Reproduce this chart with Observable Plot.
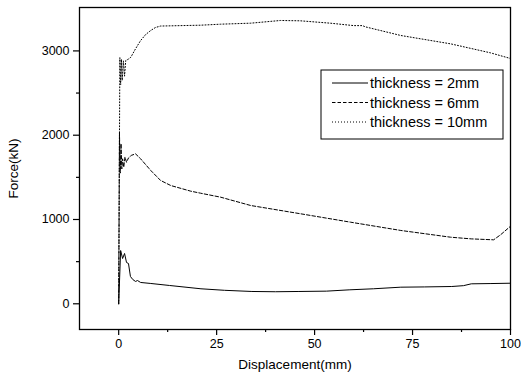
<!DOCTYPE html>
<html>
<head>
<meta charset="utf-8">
<script src="https://cdn.jsdelivr.net/npm/d3@7"></script>
<script src="https://cdn.jsdelivr.net/npm/@observablehq/plot@0.6"></script>
<style>
  html, body { margin: 0; padding: 0; background: #fff; }
  #chart { width: 521px; height: 381px; }
</style>
</head>
<body>
<div id="chart"></div>
<script>
// ---- data ----
const seriesNames = ["thickness = 2mm", "thickness = 6mm", "thickness = 10mm"];

const disp2 = [0, 0.5, 1.0, 1.5, 2.0, 2.5, 3.0, 3.6, 4.3, 4.8, 5.6, 8.2, 13, 21, 27, 34, 40, 46, 53, 59, 65, 72, 78, 85, 88, 90, 95, 100];
const force2 = [0, 632, 537, 597, 490, 478, 324, 288, 265, 276, 253, 241, 217, 178, 160, 146, 143, 146, 150, 166, 178, 197, 200, 205, 215, 237, 240, 244];

const disp6 = [0, 0.2, 0.4, 0.6, 0.8, 1.0, 1.3, 1.6, 2.0, 2.5, 3.2, 4.3, 5.6, 8.2, 10.7, 13.3, 18.4, 20.9, 26, 33.7, 46.4, 59.2, 72, 84.7, 90, 95.7, 97.5, 100];
const force6 = [0, 2030, 1550, 1900, 1600, 1720, 1620, 1740, 1680, 1730, 1760, 1779, 1720, 1581, 1463, 1403, 1336, 1312, 1265, 1166, 1068, 968, 870, 790, 770, 759, 820, 920];

const disp10 = [0, 0.3, 0.5, 0.7, 0.9, 1.2, 1.5, 1.8, 2.4, 3.1, 4.3, 5.6, 6.9, 8.2, 9.4, 10.7, 20.9, 26, 33.7, 41.3, 46.4, 54, 60, 62.2, 63, 72, 84.7, 94.9, 100];
const force10 = [0, 2920, 2600, 2900, 2650, 2880, 2700, 2886, 2900, 2925, 3025, 3123, 3195, 3243, 3278, 3295, 3305, 3317, 3329, 3361, 3357, 3329, 3300, 3300, 3285, 3183, 3084, 2977, 2910];

const xTicks = [0, 25, 50, 75, 100];
const xMinor = [12.5, 37.5, 62.5, 87.5];
const yTicks = [0, 1000, 2000, 3000];
const yMinor = [500, 1500, 2500];

const dashes = [null, "3.5,2", "1,2"];

const toRows = (xs, ys, s) => xs.map((x, i) => ({x, y: ys[i], s}));
const rows = [
  ...toRows(disp2, force2, seriesNames[0]),
  ...toRows(disp6, force6, seriesNames[1]),
  ...toRows(disp10, force10, seriesNames[2])
];

const font = "'Liberation Sans', Arial, Helvetica, sans-serif";

const chart = Plot.plot({
  width: 521,
  height: 381,
  marginLeft: 79,
  marginRight: 11,
  marginTop: 7,
  marginBottom: 52,
  style: {fontFamily: font, fontSize: "12.5px", color: "#000", background: "#fff"},
  x: {domain: [-10, 100]},
  y: {domain: [-305, 3515]},
  marks: [
    Plot.frame({stroke: "#000", strokeWidth: 1.3}),
    Plot.axisX({ticks: xTicks, tickSize: 6, tickPadding: 4, tickFormat: d => String(d), label: "Displacement(mm)", labelAnchor: "center", labelOffset: 39, labelArrow: "none", strokeWidth: 1.2}),
    Plot.axisX({ticks: xMinor, tickSize: 3, text: null, label: null, strokeWidth: 1.2}),
    Plot.axisY({ticks: yTicks, tickSize: 6, tickPadding: 4, tickFormat: d => String(d), label: "Force(kN)", labelAnchor: "center", labelOffset: 71, labelArrow: "none", strokeWidth: 1.2}),
    Plot.axisY({ticks: yMinor, tickSize: 3, text: null, label: null, strokeWidth: 1.2}),
    ...seriesNames.map((name, i) => Plot.line(rows.filter(d => d.s === name), {
      x: "x", y: "y", stroke: "#000", strokeWidth: 1, strokeDasharray: dashes[i], curve: "linear"
    }))
  ]
});
document.getElementById("chart").appendChild(chart);

// axis titles a bit larger than tick labels
d3.select(chart).selectAll("g[aria-label='x-axis label'] text, g[aria-label='y-axis label'] text")
  .attr("font-size", 13.5);

// legend inside the plot area (top-right)
const svg = d3.select(chart);
const lg = svg.append("g").attr("transform", "translate(321,70)");
lg.append("rect").attr("width", 182).attr("height", 69).attr("fill", "#fff").attr("stroke", "#000").attr("stroke-width", 1);
seriesNames.forEach((name, i) => {
  const yy = 13 + i * 19.5;
  lg.append("line").attr("x1", 11).attr("x2", 47).attr("y1", yy).attr("y2", yy)
    .attr("stroke", "#000").attr("stroke-width", 1).attr("stroke-dasharray", dashes[i]);
  lg.append("text").attr("x", 49).attr("y", yy).attr("dy", "0.36em")
    .attr("text-anchor", "start")
    .attr("font-family", font).attr("font-size", 14.5).attr("fill", "#000").text(name);
});
</script>
</body>
</html>
